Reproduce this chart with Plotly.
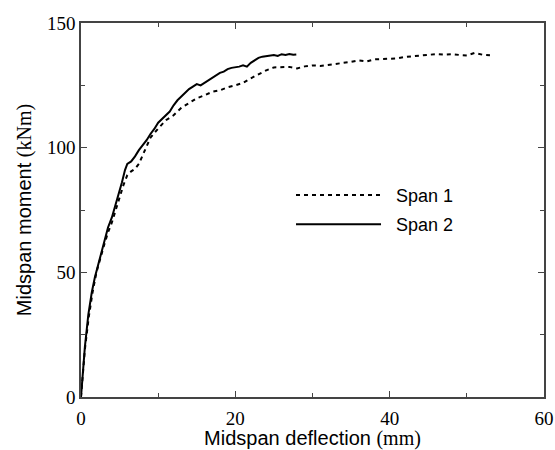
import plotly.graph_objects as go

# Span 2 (solid)
span2_x = [0, 0.2, 0.5, 0.95, 1.4, 1.8, 2.3, 2.7, 3.1, 3.5, 4.0, 4.4, 4.9, 5.3, 5.7, 6.0, 6.5, 7.0, 7.5, 8.0,
           8.5, 9.0, 9.5, 10.0, 10.5, 11.0, 11.5, 12.0, 12.5, 13.0, 13.5, 14.0, 14.5, 15.0, 15.5, 16.0, 16.5,
           17.0, 17.5, 18.0, 18.5, 19.0, 19.5, 20.0, 20.5, 21.0, 21.5, 22.0, 22.5, 23.0, 23.5, 24.0, 24.5,
           25.0, 25.5, 26.0, 26.5, 27.0, 27.5, 27.9]
span2_y = [0, 8, 20, 33, 42, 48, 54, 59, 64, 68, 72, 76, 81, 86, 91, 93.5, 94.5, 96.5, 99, 101,
           103, 105.5, 107.5, 110, 111.5, 113, 114.5, 117, 119, 120.5, 122, 123.5, 124.5, 125.5, 125, 126, 127,
           128, 129, 130, 130.5, 131.5, 132, 132.2, 132.5, 133, 132.5, 134, 135, 136, 136.5, 136.8, 137,
           137.2, 136.8, 137.5, 137.2, 137.6, 137.3, 137.4]

# Span 1 (dashed)
span1_x = [0, 0.2, 0.5, 1.0, 1.5, 2.0, 2.5, 3.0, 3.5, 4.0, 4.5, 5.0, 5.5, 6.0, 6.5, 7.0, 7.5, 8.0, 9, 10,
           11, 11.5, 12, 13, 14, 15, 16, 17, 18, 19, 20, 21, 22, 23, 24, 25, 26, 27, 28, 29, 30, 31, 32, 33,
           34, 35, 36, 37, 38, 39, 40, 41, 42, 43, 44, 45, 46, 47, 48, 49, 50, 51, 52, 53]
span1_y = [0, 7, 19, 32, 42, 50, 56, 61, 66, 70, 75, 80, 85, 89, 90.5, 91.5, 93.5, 97, 104, 107.7,
           111, 112, 113, 116, 118, 119.8, 121, 122.4, 123, 124.2, 125, 126, 127.8, 129.5, 131, 132.2, 132.4,
           132.4, 131.8, 132.6, 133, 132.8, 133.2, 133.5, 134, 134.4, 135, 134.6, 135.4, 135.6, 135.8, 135.8,
           136.4, 136.6, 136.8, 137, 137.5, 137.3, 137.5, 137.2, 137, 138, 137.3, 137.1]

series_names = ["Span 1", "Span 2"]
x_ticks = [0, 20, 40, 60]
y_ticks = [0, 50, 100, 150]

pad = "\u00a0\u00a0"

fig = go.Figure()
fig.add_trace(go.Scatter(x=span1_x, y=span1_y, mode="lines", name=pad + series_names[0], legendgroup="s1",
                         line=dict(color="black", width=2, dash="4px,4px")))
fig.add_trace(go.Scatter(x=span2_x, y=span2_y, mode="lines", name=pad + series_names[1], legendgroup="s2",
                         line=dict(color="black", width=2)))

serif = "Liberation Serif, Times New Roman, serif"
sans = "Liberation Sans, Arial, sans-serif"

axis_common = dict(
    showline=True, linecolor="#444", linewidth=1.5, mirror="ticks",
    ticks="inside", ticklen=6, tickwidth=1, tickcolor="#444",
    showgrid=False, zeroline=False, automargin=False,
    tickfont=dict(family=serif, size=19, color="black"),
    minor=dict(ticks="inside", ticklen=4, tickwidth=1, tickcolor="#444", showgrid=False),
)

fig.update_xaxes(range=[0, 60], tickvals=x_ticks, minor_dtick=10, ticklabelstandoff=3,
                 title=dict(text="Midspan deflection <span style='font-family:Liberation Serif'>(mm)</span>",
                            font=dict(family=sans, size=20, color="black"), standoff=7),
                 **axis_common)
fig.update_yaxes(range=[0, 150], tickvals=y_ticks, minor_dtick=25,
                 title=dict(text="Midspan moment <span style='font-family:Liberation Serif'>(kNm)</span>",
                            font=dict(family=sans, size=20, color="black"), standoff=10),
                 **axis_common)

fig.update_layout(
    width=555, height=450,
    margin=dict(l=81, r=11, t=23, b=53),
    plot_bgcolor="white", paper_bgcolor="white",
    legend=dict(x=0.4536, y=0.589, xanchor="left", yanchor="top",
                bgcolor="rgba(0,0,0,0)", itemwidth=85, traceorder="grouped", tracegroupgap=3,
                font=dict(family=sans, size=18, color="black")),
)

fig.write_html("out.html")
